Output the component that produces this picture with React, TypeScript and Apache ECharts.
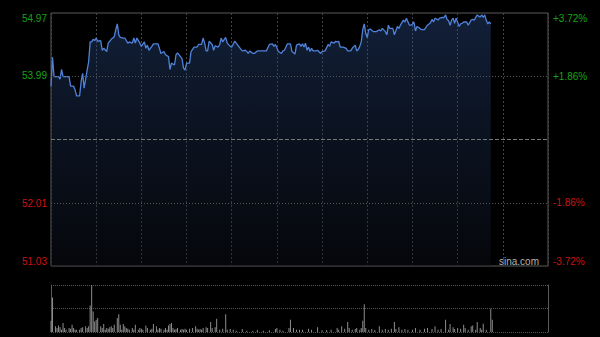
import React, { useEffect, useRef } from "react";
import * as echarts from "echarts";

const prevClose = 53.0;
const priceMin = 51.03;
const priceMax = 54.97;
const pctMax = 3.72;
const priceTicks = [51.03, 52.01, 53.99, 54.97];
const pctTicks = [-3.72, -1.86, 1.86, 3.72];
const totalMinutes = 330;
const gridStep = 30;

// [minute index, price]
const pricePoints: [number, number][] = [
  [0, 53.83], [1, 54.28], [2, 53.98], [5, 53.98], [6, 53.94], [7, 54.09], [8, 53.98], [12, 53.98],
  [13, 53.83], [15, 53.83], [16, 53.77], [17, 53.68], [19, 53.68], [20, 53.9], [21, 54.03], [22, 53.8],
  [24, 54.08], [25, 54.21], [26, 54.52], [27, 54.52], [28, 54.56], [29, 54.54], [30, 54.58], [31, 54.53],
  [33, 54.54], [34, 54.39], [35, 54.42], [37, 54.37], [38, 54.5], [40, 54.56], [41, 54.58], [42, 54.6],
  [43, 54.71], [44, 54.8], [45, 54.63], [46, 54.59], [48, 54.58], [49, 54.58], [51, 54.5], [52, 54.52],
  [54, 54.5], [55, 54.58], [56, 54.5], [57, 54.58], [59, 54.5], [60, 54.45], [62, 54.52], [63, 54.42],
  [64, 54.47], [65, 54.39], [67, 54.45], [68, 54.49], [71, 54.49], [72, 54.42], [73, 54.34], [75, 54.37],
  [76, 54.32], [78, 54.29], [79, 54.09], [80, 54.19], [82, 54.16], [83, 54.32], [84, 54.35], [86, 54.29],
  [87, 54.26], [88, 54.11], [89, 54.08], [90, 54.19], [92, 54.19], [93, 54.37], [95, 54.44], [97, 54.44],
  [98, 54.48], [100, 54.48], [101, 54.58], [102, 54.5], [103, 54.38], [104, 54.38], [105, 54.53], [107, 54.48],
  [108, 54.39], [109, 54.46], [111, 54.44], [112, 54.48], [113, 54.58], [114, 54.52], [116, 54.59], [117, 54.5],
  [119, 54.45], [120, 54.44], [122, 54.53], [123, 54.5], [125, 54.44], [127, 54.38], [129, 54.39], [130, 54.37],
  [131, 54.34], [132, 54.38], [134, 54.34], [135, 54.34], [137, 54.38], [143, 54.38], [145, 54.48], [147, 54.49],
  [148, 54.45], [149, 54.48], [151, 54.37], [153, 54.34], [154, 54.38], [155, 54.39], [157, 54.49], [159, 54.49],
  [160, 54.37], [162, 54.33], [163, 54.47], [165, 54.49], [166, 54.45], [167, 54.49], [168, 54.44], [169, 54.5],
  [170, 54.39], [171, 54.44], [172, 54.37], [173, 54.42], [174, 54.38], [176, 54.38], [177, 54.39], [179, 54.34],
  [180, 54.37], [182, 54.38], [184, 54.48], [185, 54.45], [186, 54.52], [188, 54.5], [189, 54.53], [190, 54.52],
  [191, 54.53], [192, 54.44], [194, 54.44], [196, 54.42], [197, 54.38], [199, 54.38], [200, 54.42], [202, 54.47],
  [203, 54.38], [204, 54.4], [205, 54.45], [206, 54.52], [207, 54.71], [208, 54.8], [209, 54.65], [210, 54.59],
  [211, 54.71], [212, 54.72], [214, 54.68], [216, 54.68], [218, 54.71], [219, 54.69], [220, 54.73], [222, 54.68],
  [223, 54.63], [224, 54.78], [225, 54.73], [227, 54.73], [228, 54.63], [230, 54.76], [231, 54.73], [232, 54.78],
  [234, 54.86], [235, 54.83], [236, 54.89], [238, 54.78], [239, 54.78], [240, 54.8], [241, 54.83], [242, 54.69],
  [243, 54.76], [245, 54.73], [246, 54.71], [248, 54.71], [249, 54.75], [250, 54.78], [252, 54.82], [253, 54.87],
  [254, 54.83], [255, 54.89], [257, 54.86], [258, 54.89], [260, 54.9], [261, 54.9], [262, 54.94], [263, 54.87],
  [264, 54.85], [265, 54.78], [266, 54.86], [267, 54.89], [268, 54.81], [269, 54.89], [271, 54.76], [272, 54.8],
  [273, 54.81], [274, 54.83], [276, 54.83], [277, 54.78], [279, 54.86], [280, 54.87], [281, 54.86], [283, 54.94],
  [284, 54.92], [285, 54.91], [286, 54.94], [287, 54.9], [288, 54.94], [289, 54.86], [290, 54.8], [291, 54.83],
  [292, 54.8],
];

// [minute index, volume (relative units)]
const volumeBars: [number, number][] = [
  [0, 34], [1, 104], [3, 17], [4, 12], [5, 20], [6, 14], [7, 7], [8, 27], [9, 12], [10, 7], [12, 12], [13, 10],
  [14, 22], [15, 12], [16, 7], [17, 7], [19, 7], [20, 12], [21, 14], [23, 17], [24, 12], [25, 17], [26, 80],
  [27, 142], [28, 62], [29, 32], [30, 37], [31, 42], [33, 17], [34, 12], [35, 24], [36, 7], [37, 12], [38, 10],
  [39, 14], [40, 17], [41, 12], [42, 22], [44, 42], [45, 54], [46, 22], [47, 7], [48, 24], [49, 17], [50, 12],
  [51, 10], [52, 7], [54, 12], [55, 7], [56, 22], [58, 7], [59, 12], [60, 10], [61, 7], [63, 20], [64, 12],
  [66, 7], [67, 10], [68, 24], [70, 17], [71, 7], [72, 12], [73, 10], [75, 7], [76, 12], [77, 7], [78, 20],
  [79, 24], [80, 27], [81, 12], [82, 7], [83, 9], [84, 12], [86, 7], [87, 9], [88, 7], [89, 10], [90, 7],
  [92, 10], [94, 12], [96, 17], [97, 10], [98, 7], [99, 9], [100, 7], [101, 12], [103, 14], [104, 12], [106, 30],
  [107, 12], [109, 14], [110, 40], [112, 7], [114, 10], [116, 54], [117, 7], [119, 9], [121, 7], [123, 4],
  [127, 9], [130, 4], [134, 4], [137, 6], [141, 4], [145, 5], [149, 9], [150, 12], [152, 7], [154, 4], [158, 12],
  [159, 37], [161, 12], [163, 7], [165, 7], [167, 7], [171, 10], [173, 7], [177, 14], [180, 5], [183, 6],
  [186, 7], [190, 12], [191, 7], [193, 17], [195, 10], [197, 30], [198, 12], [200, 7], [202, 9], [203, 12],
  [205, 7], [206, 12], [207, 34], [208, 84], [209, 12], [211, 7], [213, 9], [215, 6], [218, 17], [220, 7],
  [222, 9], [224, 7], [226, 10], [228, 30], [229, 9], [231, 14], [233, 7], [235, 9], [237, 7], [240, 7],
  [242, 12], [245, 7], [248, 10], [250, 12], [253, 9], [255, 17], [257, 7], [259, 9], [262, 37], [264, 7],
  [265, 24], [267, 14], [268, 9], [270, 12], [272, 10], [274, 22], [275, 12], [277, 7], [279, 17], [280, 20],
  [282, 7], [283, 30], [285, 12], [286, 7], [287, 25], [289, 7], [292, 70], [293, 37],
];
const volumeMax = 142;

const FONT = "'Liberation Sans', Arial, sans-serif";
const GREEN = "#17a317";
const RED = "#cc1313";

export default function App() {
  const ref = useRef<HTMLDivElement>(null);

  useEffect(() => {
    if (!ref.current) return;
    const chart = echarts.init(ref.current, undefined, { renderer: "svg" });
    const option: any = {
      animation: false,
      backgroundColor: "#000000",
      textStyle: { fontFamily: FONT },
      grid: [
        { left: 51, top: 13, width: 497, height: 253, show: true, borderColor: "#5a5a5a", borderWidth: 1, backgroundColor: "transparent" },
        { left: 51, top: 285, width: 497, height: 47 },
      ],
      xAxis: [
        {
          type: "value", gridIndex: 0, min: 0, max: totalMinutes, interval: gridStep,
          axisLine: { show: false }, axisTick: { show: false }, axisLabel: { show: false },
          splitLine: { show: true, lineStyle: { color: "#444444", type: [2, 2], width: 1 } },
        },
        {
          type: "value", gridIndex: 1, min: 0, max: totalMinutes, interval: gridStep,
          axisLine: { show: false }, axisTick: { show: false }, axisLabel: { show: false },
          splitLine: { show: false },
        },
      ],
      yAxis: [
        {
          type: "value", gridIndex: 0, position: "left", min: priceMin, max: priceMax,
          axisLine: { show: false }, axisTick: { show: false }, splitLine: { show: false },
          axisLabel: {
            customValues: priceTicks,
            fontSize: 10, fontFamily: FONT, margin: 4,
            formatter: (v: number) => v.toFixed(2),
            color: (v: any) => (Number(v) > prevClose ? GREEN : RED),
            verticalAlignMaxLabel: "top",
            verticalAlignMinLabel: "bottom",
          },
        },
        {
          type: "value", gridIndex: 0, position: "right", min: -pctMax, max: pctMax,
          axisLine: { show: false }, axisTick: { show: false }, splitLine: { show: false },
          axisLabel: {
            customValues: pctTicks,
            fontSize: 10, fontFamily: FONT, margin: 5,
            formatter: (v: number) => (v > 0 ? "+" : "") + v.toFixed(2) + "%",
            color: (v: any) => (Number(v) > 0 ? GREEN : RED),
            verticalAlignMaxLabel: "top",
            verticalAlignMinLabel: "bottom",
          },
        },
        {
          type: "value", gridIndex: 1, position: "left", min: 0, max: volumeMax, interval: volumeMax / 2,
          axisLine: { show: true, lineStyle: { color: "#5a5a5a" } }, axisTick: { show: false }, axisLabel: { show: false },
          splitLine: { show: true, lineStyle: { color: "#555555", type: [1, 1] } },
        },
        {
          type: "value", gridIndex: 1, position: "right", min: 0, max: volumeMax,
          axisLine: { show: true, lineStyle: { color: "#5a5a5a" } }, axisTick: { show: false }, axisLabel: { show: false },
          splitLine: { show: false },
        },
      ],
      series: [
        {
          type: "line", xAxisIndex: 0, yAxisIndex: 0,
          data: pricePoints,
          showSymbol: false, symbol: "none",
          lineStyle: { color: "#4f82d8", width: 1.3 },
          areaStyle: {
            origin: "start",
            color: new echarts.graphic.LinearGradient(0, 0, 0, 1, [
              { offset: 0, color: "rgba(46,82,146,0.55)" },
              { offset: 0.5, color: "rgba(34,56,98,0.45)" },
              { offset: 1, color: "rgba(14,18,30,0.5)" },
            ]),
          },
          markLine: {
            silent: true, symbol: "none", label: { show: false },
            data: [
              { yAxis: priceTicks[1], lineStyle: { color: "#555555", type: [1, 2], width: 1 } },
              { yAxis: priceTicks[2], lineStyle: { color: "#555555", type: [1, 2], width: 1 } },
              { yAxis: prevClose, lineStyle: { color: "#777777", type: [4, 2], width: 1 } },
            ],
          },
        },
        {
          type: "bar", xAxisIndex: 1, yAxisIndex: 2,
          data: volumeBars,
          barWidth: 1,
          itemStyle: { color: "#8c8c8c" },
        },
      ],
      graphic: [
        {
          type: "text", left: 499, top: 256,
          style: { text: "sina.com", fill: "#b4b4b4", font: `10px ${FONT}` },
        },
      ],
    };
    chart.setOption(option);
    return () => chart.dispose();
  }, []);

  return (
    <div
      ref={ref}
      style={{ position: "fixed", left: 0, top: 0, width: 600, height: 337, background: "#000" }}
    />
  );
}
